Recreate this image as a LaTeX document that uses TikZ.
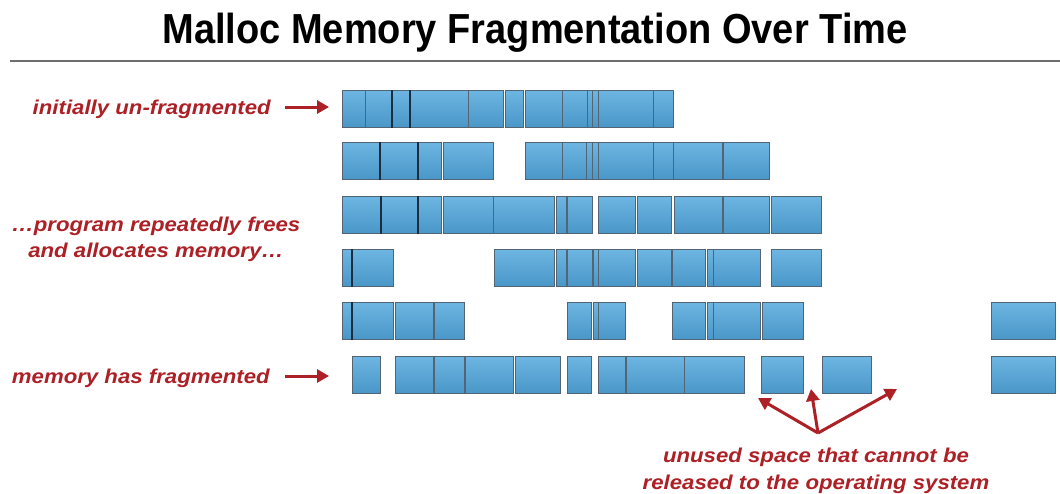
\documentclass[tikz,border=0pt]{standalone}
\usepackage{fontspec}
\usepackage{graphicx}
\setmainfont{Liberation Sans}
\usetikzlibrary{arrows.meta}
\definecolor{labred}{RGB}{172,32,38}
\definecolor{blktop}{RGB}{110,182,226}
\definecolor{blkbot}{RGB}{72,150,200}
\definecolor{blkedge}{RGB}{84,100,114}
\definecolor{blkdark}{RGB}{25,45,65}
\definecolor{rulegray}{RGB}{110,110,110}

% one row of heap blocks: #1 row name, #2 top edge, #3 list of left/right edges
\newcommand\heaprow[3]{%
  \foreach \a/\b [count=\i] in {#3}{%
    \pgfmathsetmacro\w{\b-\a}%
    \node[blk, minimum width=\w pt] (#1b\i) at (\a,#2) {};
  }}
% wide italic lettering for the annotations
\newcommand\wide[1]{\scalebox{1.11}[1]{#1}}

\begin{document}
\begin{tikzpicture}[x=1pt,y=-1pt,
  blk/.style={draw=blkedge, line width=0.9pt, top color=blktop, bottom color=blkbot,
    inner sep=0pt, outer sep=0pt, anchor=north west, minimum height=37.5pt},
  lab/.style={text=labred, font=\fontsize{20}{22}\selectfont\bfseries\itshape, inner sep=0pt},
  redarrow/.style={draw=labred, line width=3pt, -{Triangle[length=12pt,width=13pt]}},
  darkline/.style={draw=blkdark, line width=1.3pt}]

\useasboundingbox[fill=white] (0,0) rectangle (1060,493);

% heading and rule
\node[anchor=base, font=\fontsize{42}{42}\selectfont\bfseries, inner sep=0pt] (title) at (535,43)
  {\resizebox{745pt}{\height}{Malloc Memory Fragmentation Over Time}};
\draw[rulegray, line width=2pt] (10,61) -- (1060,61);

% heap snapshots, top to bottom
\heaprow{r1}{90}{342/365,365/392,392/410,410/468,468/503,505/523,525/562,562/587,587/592,592/598,598/653,653/673}
\heaprow{r2}{142}{342/380,380/418,418/441,443/493,525/562,562/586,586/592,592/598,598/653,653/673,673/722,723/769}
\heaprow{r3}{196}{342/381,381/418,418/441,443/493,493/554,556/566,567/592,598/635,637/671,674/722,723/769,771/821}
\heaprow{r4}{249}{342/352,352/393,494/554,556/566,567/592,593/598,598/635,637/671,672/705,707/713,713/760,771/821}
\heaprow{r5}{302}{342/352,352/393,395/433,434/464,567/591,593/598,598/625,672/705,707/713,713/760,762/803,991/1055}
\heaprow{r6}{356}{352/380,395/433,434/464,465/513,515/560,567/591,598/625,626/684,684/744,761/803,822/871,991/1055}

% darker block boundaries
\draw[darkline] (r1b3.north west) -- (r1b3.south west);
\draw[darkline] (r1b3.north east) -- (r1b3.south east);
\draw[darkline] (r2b2.north west) -- (r2b2.south west);
\draw[darkline] (r2b2.north east) -- (r2b2.south east);
\draw[darkline] (r3b2.north west) -- (r3b2.south west);
\draw[darkline] (r3b2.north east) -- (r3b2.south east);
\draw[darkline] (r4b2.north west) -- (r4b2.south west);
\draw[darkline] (r5b2.north west) -- (r5b2.south west);

% labels on the left
\node[lab, anchor=base east] (first) at (271,114) {\wide{initially un-fragmented}};
\node[lab, anchor=base] (midA) at (156,231) {\wide{…program repeatedly frees}};
\node[lab, anchor=base] (midB) at (156,257) {\wide{and allocates memory…}};
\node[lab, anchor=base east] (last) at (270,383) {\wide{memory has fragmented}};

\coordinate (firstTail) at (285,107);
\coordinate (firstHead) at (329,107);
\coordinate (lastTail) at (285,376);
\coordinate (lastHead) at (329,376);
\draw[redarrow] (firstTail) -- (firstHead);
\draw[redarrow] (lastTail) -- (lastHead);

% explanation of the holes
\node[lab, anchor=base] (noteA) at (816,462) {\wide{unused space that cannot be}};
\node[lab, anchor=base] (noteB) at (816,489) {\wide{released to the operating system}};

\coordinate (fork) at (818,433);
\coordinate (holeA) at (758,398);
\coordinate (holeB) at (811,389);
\coordinate (holeC) at (897,389);
\draw[redarrow] (fork) -- (holeA);
\draw[redarrow] (fork) -- (holeB);
\draw[redarrow] (fork) -- (holeC);
\end{tikzpicture}
\end{document}
